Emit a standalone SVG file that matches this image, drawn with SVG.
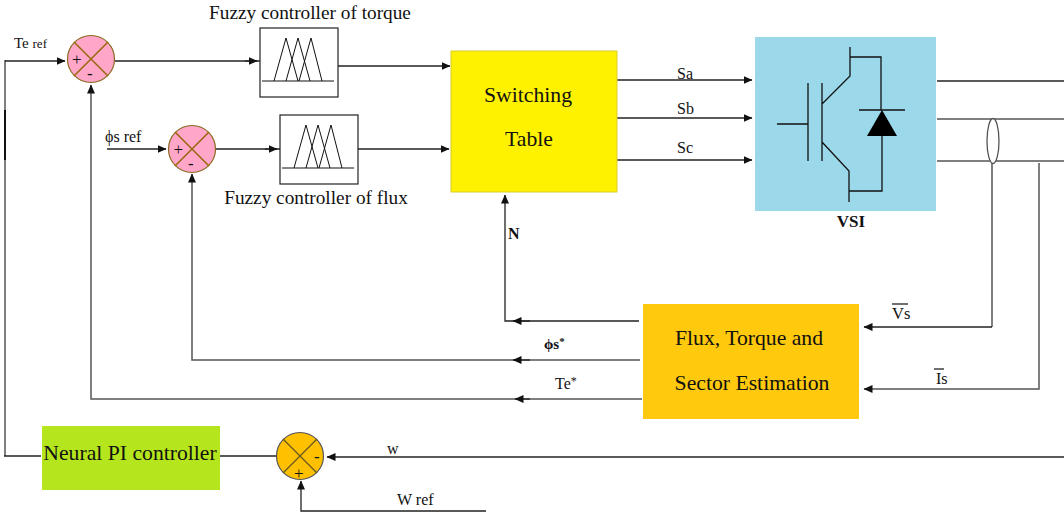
<svg xmlns="http://www.w3.org/2000/svg" width="1064" height="512" viewBox="0 0 1064 512">
<style>
text{font-family:"Liberation Serif","Times New Roman",serif;fill:#111}
.c{fill:none;stroke:#222;stroke-width:1.3}
.g{fill:none;stroke:#555;stroke-width:1.5}
.x{stroke:#9a6a10;stroke-width:1.6;fill:none}
.k{fill:none;stroke:#111;stroke-width:1.3}
.f{fill:none;stroke:#111;stroke-width:1}
.box{fill:#fff;stroke:#222;stroke-width:1.2}
.sg{font-size:17px}
.lab{font-size:16px}
.lg{font-size:21.7px}
.md{font-size:19.3px}
</style>
<defs>
<marker id="a" markerUnits="userSpaceOnUse" markerWidth="10" markerHeight="8" refX="8.5" refY="4" orient="auto"><path d="M0,0L9,4L0,8Z" fill="#111"/></marker>
<g id="tri"><path class="f" d="M274,81L286,38L298,81M286,81L298,38L310,81M299,81L311,38L322,81"/><path class="f" d="M262,81H334"/></g>
</defs>
<g id="connectors">
<path class="g" d="M5,60V456"/><path d="M5,110V160" stroke="#111" stroke-width="2" fill="none"/>
<path class="c" d="M5,61H65" marker-end="url(#a)"/>
<path class="c" d="M115,61H260"/><path class="c" d="M245,61H257" marker-end="url(#a)"/>
<path class="c" d="M338,66H450" marker-end="url(#a)"/>
<path class="c" d="M107,149H166" marker-end="url(#a)"/>
<path class="c" d="M216,149H280"/><path class="c" d="M265,149H277" marker-end="url(#a)"/>
<path class="c" d="M358,149H449" marker-end="url(#a)"/>
<path class="c" d="M617,80H752" marker-end="url(#a)"/>
<path class="c" d="M617,118H752" marker-end="url(#a)"/>
<path class="c" d="M617,160H752" marker-end="url(#a)"/>
<path class="c" d="M937,81H1064"/>
<path class="g" d="M937,119H1064"/>
<path class="g" d="M937,161H1064"/>
<path class="g" d="M992,161V327"/><path class="c" d="M992,327H864" marker-end="url(#a)"/>
<path class="g" d="M1039,163V389H864" marker-end="url(#a)"/>
<path class="c" d="M639,321H505V195" marker-end="url(#a)"/>
<path class="c" d="M530,321H513" marker-end="url(#a)"/>
<path class="g" d="M640,360H192V174" marker-end="url(#a)"/>
<path class="c" d="M530,360H513" marker-end="url(#a)"/>
<path class="g" d="M642,399H91V85" marker-end="url(#a)"/>
<path class="c" d="M530,399H515" marker-end="url(#a)"/>
<path class="c" d="M1064,457H327" marker-end="url(#a)"/>
<path class="c" d="M486,511H301V481" marker-end="url(#a)"/>
<path class="c" d="M276,456H220"/>
<path class="c" d="M41,456H4"/>
</g>
<g id="sum-torque"><circle cx="91" cy="59" r="23.5" fill="#ffa6c9" stroke="#8a6a20" stroke-width="1.2"/><path class="x" d="M74,42L108,76M108,42L74,76"/><text class="sg" x="72" y="65">+</text><text class="sg" x="87" y="79">-</text></g>
<g id="sum-flux"><circle cx="192" cy="149" r="23.5" fill="#ffa6c9" stroke="#8a6a20" stroke-width="1.2"/><path class="x" d="M175,132L209,166M209,132L175,166"/><text class="sg" x="173.5" y="155">+</text><text class="sg" x="188" y="169">-</text></g>
<g id="fuzzy-torque"><rect class="box" x="260" y="28" width="78" height="69"/><use href="#tri"/><text class="md" x="310" y="19" text-anchor="middle">Fuzzy controller of torque</text></g>
<g id="fuzzy-flux"><rect class="box" x="280" y="115" width="78" height="69"/><use href="#tri" x="20" y="87"/><text class="md" x="316" y="204" text-anchor="middle">Fuzzy controller of flux</text></g>
<g id="switching-table"><rect x="451" y="51" width="166" height="141" fill="#fff200" stroke="#d8cc30" stroke-width="1"/><text class="lg" x="528" y="102" text-anchor="middle">Switching</text><text class="lg" x="529" y="146" text-anchor="middle">Table</text></g>
<g id="vsi"><rect x="755" y="37" width="181" height="174" fill="#9bd8ea"/>
<path class="k" d="M850,47V76L822,104M850,57H881V110M777,124H808M808,83V161M822,83V161M822,142L849,171V202M849,191H882V136M859,110H905"/>
<path d="M882,110L867,136H897Z" fill="#000"/>
<text x="851" y="227" text-anchor="middle" font-size="17" font-weight="bold">VSI</text></g>
<g id="current-sensor"><ellipse cx="993" cy="141" rx="6" ry="22.5" fill="#fff" stroke="#555" stroke-width="1.3"/></g>
<g id="estimator"><rect x="643" y="304" width="216" height="115" fill="#ffc90e"/><text class="lg" x="749" y="345" text-anchor="middle">Flux, Torque and</text><text class="lg" x="752" y="390" text-anchor="middle">Sector Estimation</text></g>
<g id="neural-pi"><rect x="42" y="426" width="178" height="64" fill="#b5e61d"/><text class="lg" x="130" y="460" text-anchor="middle">Neural PI controller</text></g>
<g id="sum-speed"><circle cx="300" cy="456" r="23.5" fill="#ffc000" stroke="#555" stroke-width="1.2"/><path d="M283,439L317,473M317,439L283,473" stroke="#6a5a20" stroke-width="1.4" fill="none"/><text class="sg" x="314" y="462">-</text><text class="sg" x="294" y="479">+</text></g>
<g id="labels">
<text x="14" y="48" font-size="15">Te <tspan font-size="13">ref</tspan></text>
<text x="105" y="142" font-size="16">ϕs ref</text>
<text x="677" y="79" class="lab">Sa</text>
<text x="677" y="114" class="lab">Sb</text>
<text x="677" y="153" class="lab">Sc</text>
<text x="508" y="239" font-size="16" font-weight="bold">N</text>
<text x="544" y="349" font-size="15" font-weight="bold">ϕs<tspan font-size="11" dy="-4">*</tspan></text>
<text x="555" y="389" class="lab">Te<tspan font-size="12" dy="-4">*</tspan></text>
<text x="892" y="319" font-size="16.5">Vs</text><path class="c" d="M892,304H908"/>
<text x="936" y="384" font-size="16">Is</text><path class="c" d="M934,369H944"/>
<text x="387" y="454" class="lab">w</text>
<text x="397" y="505" class="lab">W ref</text>
</g>
</svg>
